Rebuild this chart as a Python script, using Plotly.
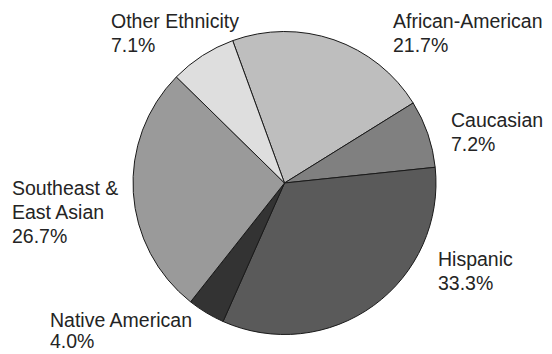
import plotly.graph_objects as go

# Data (clockwise order starting just left of 12 o'clock)
categories = ["African-American", "Caucasian", "Hispanic", "Native American",
              "Southeast & East Asian", "Other Ethnicity"]
values = [21.7, 7.2, 33.3, 4.0, 26.7, 7.1]
label_lines = [["African-American"], ["Caucasian"], ["Hispanic"], ["Native American"],
               ["Southeast &", "East Asian"], ["Other Ethnicity"]]

# Styling / layout (positions in pixels of the 552x354 canvas)
colors = ["#bebebe", "#808080", "#5a5a5a", "#333333", "#9a9a9a", "#dedede"]
label_pos = [(392, 21), (450, 120), (437, 259), (49, 320), (11, 188), (110, 21)]
line_step = [24, 24, 24, 21, 24, 24]
W, H = 552, 354
FONT = dict(family="Liberation Sans, Arial, sans-serif", size=19.5, color="#242424")

cx, cy, r = 284.5, 183.0, 151.5

fig = go.Figure(go.Pie(
    labels=categories,
    values=values,
    sort=False,
    direction="clockwise",
    rotation=-20,
    marker=dict(colors=colors, line=dict(color="#1a1a1a", width=1)),
    textinfo="none",
    hoverinfo="label+percent",
    showlegend=False,
    domain=dict(x=[(cx - r) / W, (cx + r) / W], y=[(H - cy - r) / H, (H - cy + r) / H]),
))

annotations = []
for lines, v, (px, py), step in zip(label_lines, values, label_pos, line_step):
    all_lines = lines + [f"{v:.1f}%"]
    for i, t in enumerate(all_lines):
        annotations.append(dict(
            x=px / W, y=1 - (py + i * step) / H, xref="paper", yref="paper",
            xanchor="left", yanchor="middle", text=t, showarrow=False,
            font=FONT, align="left", borderpad=0,
        ))

fig.update_layout(
    width=W, height=H,
    margin=dict(l=0, r=0, t=0, b=0),
    paper_bgcolor="white", plot_bgcolor="white",
    annotations=annotations,
)

fig.write_html("out.html")
